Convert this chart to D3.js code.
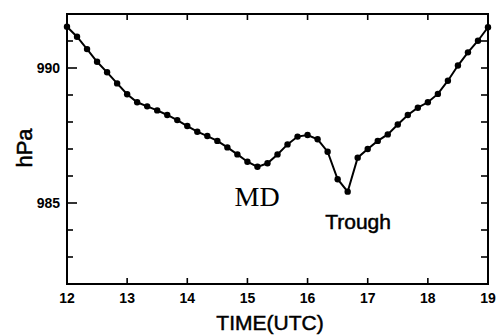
<!DOCTYPE html>
<html>
<head>
<meta charset="utf-8">
<script src="https://cdn.jsdelivr.net/npm/d3@7"></script>
<style>
  body { margin: 0; background: #fff; }
  text { font-family: "Liberation Sans", Arial, sans-serif; fill: #000; }
</style>
</head>
<body>
<div class="vis-pressure"></div>
<script>
// time in hours UTC, every 10 minutes
const times = d3.range(0, 43).map(i => 12 + i / 6);
const pressure = [
  991.53, 991.16, 990.70, 990.23, 989.84, 989.43,
  989.03, 988.73, 988.58, 988.43, 988.26, 988.07,
  987.85, 987.64, 987.48, 987.30, 987.06, 986.80,
  986.53, 986.34, 986.47, 986.80, 987.17, 987.46,
  987.52, 987.36, 986.90, 985.88, 985.42, 986.68,
  987.00, 987.30, 987.54, 987.91, 988.26, 988.53,
  988.73, 989.04, 989.53, 990.09, 990.58, 991.01,
  991.51
];
const xTicks = [12, 13, 14, 15, 16, 17, 18, 19];
const yMajor = [985, 990];
const yMinor = [983, 984, 986, 987, 988, 989, 991];
const labels = [
  {text: "MD", t: 15.16, p: 984.89, serif: true},
  {text: "Trough", t: 16.84, p: 984.03, serif: false}
];

const data = times.map((t, i) => ({t: t, p: pressure[i]}));

var width = 498, height = 336;
var margin = ({left: 67, right: 10, top: 14, bottom: 52});

const x = d3.scaleLinear()
    .domain([12, 19])
    .range([margin.left, width - margin.right]);

const y = d3.scaleLinear()
    .domain([982, 992])
    .range([height - margin.bottom, margin.top]);

const svg = d3.select('.vis-pressure')
    .append('svg')
    .attr("width", width)
    .attr("height", height);

// frame
svg.append("rect")
    .attr("x", x(12)).attr("y", y(992))
    .attr("width", x(19) - x(12)).attr("height", y(982) - y(992))
    .attr("fill", "none").attr("stroke", "#000").attr("stroke-width", 2);

const tickG = svg.append("g").attr("stroke", "#000").attr("stroke-width", 1.6);

// x ticks, inward on bottom and top
tickG.selectAll(".xb").data(xTicks.slice(1, -1)).join("line")
    .attr("class", "xb")
    .attr("x1", d => x(d)).attr("x2", d => x(d))
    .attr("y1", y(982)).attr("y2", y(982) - 6);
tickG.selectAll(".xt").data(xTicks.slice(1, -1)).join("line")
    .attr("class", "xt")
    .attr("x1", d => x(d)).attr("x2", d => x(d))
    .attr("y1", y(992)).attr("y2", y(992) + 6);

// y ticks, left longer for majors, right all the same
tickG.selectAll(".yl").data(yMajor.concat(yMinor)).join("line")
    .attr("class", "yl")
    .attr("x1", x(12)).attr("x2", d => x(12) + (yMajor.includes(d) ? 10 : 6))
    .attr("y1", d => y(d)).attr("y2", d => y(d));
tickG.selectAll(".yr").data(yMajor.concat(yMinor)).join("line")
    .attr("class", "yr")
    .attr("x1", x(19)).attr("x2", x(19) - 7)
    .attr("y1", d => y(d)).attr("y2", d => y(d));

// tick labels
svg.append("g").selectAll("text").data(xTicks).join("text")
    .attr("x", d => x(d)).attr("y", y(982) + 19)
    .attr("text-anchor", "middle")
    .style("font-size", "14px").style("font-weight", "bold")
    .text(d => d);

svg.append("g").selectAll("text").data(yMajor).join("text")
    .attr("x", x(12) - 7).attr("y", d => y(d) + 5)
    .attr("text-anchor", "end")
    .style("font-size", "14px").style("font-weight", "bold")
    .text(d => d);

// axis titles
svg.append("text")
    .attr("x", 270).attr("y", 330)
    .attr("text-anchor", "middle")
    .style("font-size", "21px")
    .attr("stroke", "#000").attr("stroke-width", 0.5)
    .text("TIME(UTC)");

svg.append("text")
    .attr("transform", "translate(31.5,148) rotate(-90)")
    .attr("text-anchor", "middle")
    .style("font-size", "22px")
    .attr("stroke", "#000").attr("stroke-width", 0.5)
    .text("hPa");

// pressure line and dots
const line = d3.line().x(d => x(d.t)).y(d => y(d.p));

svg.append("path")
    .datum(data)
    .attr("fill", "none")
    .attr("stroke", "#000")
    .attr("stroke-width", 2)
    .attr("d", line);

svg.append("g").selectAll("circle").data(data).join("circle")
    .attr("cx", d => x(d.t)).attr("cy", d => y(d.p))
    .attr("r", 3.2)
    .attr("fill", "#000");

// annotations
svg.append("g").selectAll("text").data(labels).join("text")
    .attr("x", d => x(d.t)).attr("y", d => y(d.p))
    .attr("text-anchor", "middle")
    .style("font-family", d => d.serif ? "'Liberation Serif', 'Times New Roman', serif" : null)
    .style("font-size", d => d.serif ? "28px" : "21px")
    .attr("stroke", d => d.serif ? null : "#000")
    .attr("stroke-width", d => d.serif ? null : 0.5)
    .text(d => d.text);
</script>
</body>
</html>
